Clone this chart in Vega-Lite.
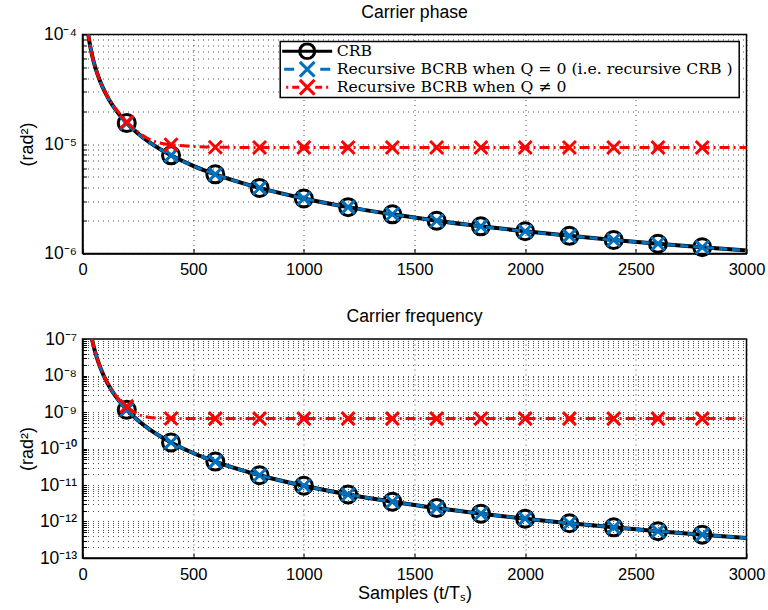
{
  "$schema": "https://vega.github.io/schema/vega-lite/v6.json",
  "background": "white",
  "padding": {"left": 17.5, "right": 2, "top": 2.5, "bottom": 5},
  "spacing": 27.5,
  "datasets": {
    "curves": [
      {"panel": "phase", "series": "crb", "n": 24, "value": 1.067e-4},
      {"panel": "phase", "series": "crb", "n": 30, "value": 8.89e-5},
      {"panel": "phase", "series": "crb", "n": 35, "value": 7.80e-5},
      {"panel": "phase", "series": "crb", "n": 40, "value": 6.96e-5},
      {"panel": "phase", "series": "crb", "n": 50, "value": 5.71e-5},
      {"panel": "phase", "series": "crb", "n": 60, "value": 4.85e-5},
      {"panel": "phase", "series": "crb", "n": 70, "value": 4.21e-5},
      {"panel": "phase", "series": "crb", "n": 80, "value": 3.72e-5},
      {"panel": "phase", "series": "crb", "n": 100, "value": 3.02e-5},
      {"panel": "phase", "series": "crb", "n": 120, "value": 2.54e-5},
      {"panel": "phase", "series": "crb", "n": 150, "value": 2.05e-5},
      {"panel": "phase", "series": "crb", "n": 200, "value": 1.553e-5},
      {"panel": "phase", "series": "crb", "n": 250, "value": 1.25e-5},
      {"panel": "phase", "series": "crb", "n": 300, "value": 1.046e-5},
      {"panel": "phase", "series": "crb", "n": 400, "value": 7.88e-6},
      {"panel": "phase", "series": "crb", "n": 500, "value": 6.32e-6},
      {"panel": "phase", "series": "crb", "n": 600, "value": 5.28e-6},
      {"panel": "phase", "series": "crb", "n": 800, "value": 3.97e-6},
      {"panel": "phase", "series": "crb", "n": 1000, "value": 3.18e-6},
      {"panel": "phase", "series": "crb", "n": 1200, "value": 2.65e-6},
      {"panel": "phase", "series": "crb", "n": 1400, "value": 2.28e-6},
      {"panel": "phase", "series": "crb", "n": 1600, "value": 1.99e-6},
      {"panel": "phase", "series": "crb", "n": 1800, "value": 1.77e-6},
      {"panel": "phase", "series": "crb", "n": 2000, "value": 1.595e-6},
      {"panel": "phase", "series": "crb", "n": 2200, "value": 1.45e-6},
      {"panel": "phase", "series": "crb", "n": 2400, "value": 1.33e-6},
      {"panel": "phase", "series": "crb", "n": 2600, "value": 1.228e-6},
      {"panel": "phase", "series": "crb", "n": 2800, "value": 1.14e-6},
      {"panel": "phase", "series": "crb", "n": 3000, "value": 1.065e-6},

      {"panel": "phase", "series": "rcrb", "n": 24, "value": 1.067e-4},
      {"panel": "phase", "series": "rcrb", "n": 30, "value": 8.89e-5},
      {"panel": "phase", "series": "rcrb", "n": 35, "value": 7.80e-5},
      {"panel": "phase", "series": "rcrb", "n": 40, "value": 6.96e-5},
      {"panel": "phase", "series": "rcrb", "n": 50, "value": 5.71e-5},
      {"panel": "phase", "series": "rcrb", "n": 60, "value": 4.85e-5},
      {"panel": "phase", "series": "rcrb", "n": 70, "value": 4.21e-5},
      {"panel": "phase", "series": "rcrb", "n": 80, "value": 3.72e-5},
      {"panel": "phase", "series": "rcrb", "n": 100, "value": 3.02e-5},
      {"panel": "phase", "series": "rcrb", "n": 120, "value": 2.54e-5},
      {"panel": "phase", "series": "rcrb", "n": 150, "value": 2.05e-5},
      {"panel": "phase", "series": "rcrb", "n": 200, "value": 1.553e-5},
      {"panel": "phase", "series": "rcrb", "n": 250, "value": 1.25e-5},
      {"panel": "phase", "series": "rcrb", "n": 300, "value": 1.046e-5},
      {"panel": "phase", "series": "rcrb", "n": 400, "value": 7.88e-6},
      {"panel": "phase", "series": "rcrb", "n": 500, "value": 6.32e-6},
      {"panel": "phase", "series": "rcrb", "n": 600, "value": 5.28e-6},
      {"panel": "phase", "series": "rcrb", "n": 800, "value": 3.97e-6},
      {"panel": "phase", "series": "rcrb", "n": 1000, "value": 3.18e-6},
      {"panel": "phase", "series": "rcrb", "n": 1200, "value": 2.65e-6},
      {"panel": "phase", "series": "rcrb", "n": 1400, "value": 2.28e-6},
      {"panel": "phase", "series": "rcrb", "n": 1600, "value": 1.99e-6},
      {"panel": "phase", "series": "rcrb", "n": 1800, "value": 1.77e-6},
      {"panel": "phase", "series": "rcrb", "n": 2000, "value": 1.595e-6},
      {"panel": "phase", "series": "rcrb", "n": 2200, "value": 1.45e-6},
      {"panel": "phase", "series": "rcrb", "n": 2400, "value": 1.33e-6},
      {"panel": "phase", "series": "rcrb", "n": 2600, "value": 1.228e-6},
      {"panel": "phase", "series": "rcrb", "n": 2800, "value": 1.14e-6},
      {"panel": "phase", "series": "rcrb", "n": 3000, "value": 1.065e-6},

      {"panel": "phase", "series": "bcrb", "n": 24, "value": 1.067e-4},
      {"panel": "phase", "series": "bcrb", "n": 30, "value": 8.9e-5},
      {"panel": "phase", "series": "bcrb", "n": 35, "value": 7.81e-5},
      {"panel": "phase", "series": "bcrb", "n": 40, "value": 6.97e-5},
      {"panel": "phase", "series": "bcrb", "n": 50, "value": 5.72e-5},
      {"panel": "phase", "series": "bcrb", "n": 60, "value": 4.86e-5},
      {"panel": "phase", "series": "bcrb", "n": 70, "value": 4.23e-5},
      {"panel": "phase", "series": "bcrb", "n": 80, "value": 3.74e-5},
      {"panel": "phase", "series": "bcrb", "n": 100, "value": 3.05e-5},
      {"panel": "phase", "series": "bcrb", "n": 120, "value": 2.58e-5},
      {"panel": "phase", "series": "bcrb", "n": 150, "value": 2.1e-5},
      {"panel": "phase", "series": "bcrb", "n": 200, "value": 1.59e-5},
      {"panel": "phase", "series": "bcrb", "n": 250, "value": 1.29e-5},
      {"panel": "phase", "series": "bcrb", "n": 300, "value": 1.11e-5},
      {"panel": "phase", "series": "bcrb", "n": 350, "value": 1.02e-5},
      {"panel": "phase", "series": "bcrb", "n": 400, "value": 9.85e-6},
      {"panel": "phase", "series": "bcrb", "n": 500, "value": 9.5e-6},
      {"panel": "phase", "series": "bcrb", "n": 600, "value": 9.35e-6},
      {"panel": "phase", "series": "bcrb", "n": 800, "value": 9.3e-6},
      {"panel": "phase", "series": "bcrb", "n": 1000, "value": 9.3e-6},
      {"panel": "phase", "series": "bcrb", "n": 1200, "value": 9.3e-6},
      {"panel": "phase", "series": "bcrb", "n": 1400, "value": 9.3e-6},
      {"panel": "phase", "series": "bcrb", "n": 1600, "value": 9.3e-6},
      {"panel": "phase", "series": "bcrb", "n": 1800, "value": 9.3e-6},
      {"panel": "phase", "series": "bcrb", "n": 2000, "value": 9.3e-6},
      {"panel": "phase", "series": "bcrb", "n": 2200, "value": 9.3e-6},
      {"panel": "phase", "series": "bcrb", "n": 2400, "value": 9.3e-6},
      {"panel": "phase", "series": "bcrb", "n": 2600, "value": 9.3e-6},
      {"panel": "phase", "series": "bcrb", "n": 2800, "value": 9.3e-6},
      {"panel": "phase", "series": "bcrb", "n": 3000, "value": 9.3e-6},

      {"panel": "freq", "series": "crb", "n": 42, "value": 1.053e-7},
      {"panel": "freq", "series": "crb", "n": 45, "value": 8.68e-8},
      {"panel": "freq", "series": "crb", "n": 50, "value": 6.45e-8},
      {"panel": "freq", "series": "crb", "n": 60, "value": 3.84e-8},
      {"panel": "freq", "series": "crb", "n": 70, "value": 2.47e-8},
      {"panel": "freq", "series": "crb", "n": 80, "value": 1.679e-8},
      {"panel": "freq", "series": "crb", "n": 100, "value": 8.79e-9},
      {"panel": "freq", "series": "crb", "n": 120, "value": 5.16e-9},
      {"panel": "freq", "series": "crb", "n": 150, "value": 2.68e-9},
      {"panel": "freq", "series": "crb", "n": 200, "value": 1.148e-9},
      {"panel": "freq", "series": "crb", "n": 250, "value": 5.93e-10},
      {"panel": "freq", "series": "crb", "n": 300, "value": 3.45e-10},
      {"panel": "freq", "series": "crb", "n": 400, "value": 1.467e-10},
      {"panel": "freq", "series": "crb", "n": 500, "value": 7.54e-11},
      {"panel": "freq", "series": "crb", "n": 600, "value": 4.378e-11},
      {"panel": "freq", "series": "crb", "n": 800, "value": 1.854e-11},
      {"panel": "freq", "series": "crb", "n": 1000, "value": 9.51e-12},
      {"panel": "freq", "series": "crb", "n": 1200, "value": 5.51e-12},
      {"panel": "freq", "series": "crb", "n": 1400, "value": 3.476e-12},
      {"panel": "freq", "series": "crb", "n": 1600, "value": 2.33e-12},
      {"panel": "freq", "series": "crb", "n": 1800, "value": 1.638e-12},
      {"panel": "freq", "series": "crb", "n": 2000, "value": 1.195e-12},
      {"panel": "freq", "series": "crb", "n": 2200, "value": 8.98e-13},
      {"panel": "freq", "series": "crb", "n": 2400, "value": 6.92e-13},
      {"panel": "freq", "series": "crb", "n": 2600, "value": 5.44e-13},
      {"panel": "freq", "series": "crb", "n": 2800, "value": 4.36e-13},
      {"panel": "freq", "series": "crb", "n": 3000, "value": 3.545e-13},

      {"panel": "freq", "series": "rcrb", "n": 42, "value": 1.053e-7},
      {"panel": "freq", "series": "rcrb", "n": 45, "value": 8.68e-8},
      {"panel": "freq", "series": "rcrb", "n": 50, "value": 6.45e-8},
      {"panel": "freq", "series": "rcrb", "n": 60, "value": 3.84e-8},
      {"panel": "freq", "series": "rcrb", "n": 70, "value": 2.47e-8},
      {"panel": "freq", "series": "rcrb", "n": 80, "value": 1.679e-8},
      {"panel": "freq", "series": "rcrb", "n": 100, "value": 8.79e-9},
      {"panel": "freq", "series": "rcrb", "n": 120, "value": 5.16e-9},
      {"panel": "freq", "series": "rcrb", "n": 150, "value": 2.68e-9},
      {"panel": "freq", "series": "rcrb", "n": 200, "value": 1.148e-9},
      {"panel": "freq", "series": "rcrb", "n": 250, "value": 5.93e-10},
      {"panel": "freq", "series": "rcrb", "n": 300, "value": 3.45e-10},
      {"panel": "freq", "series": "rcrb", "n": 400, "value": 1.467e-10},
      {"panel": "freq", "series": "rcrb", "n": 500, "value": 7.54e-11},
      {"panel": "freq", "series": "rcrb", "n": 600, "value": 4.378e-11},
      {"panel": "freq", "series": "rcrb", "n": 800, "value": 1.854e-11},
      {"panel": "freq", "series": "rcrb", "n": 1000, "value": 9.51e-12},
      {"panel": "freq", "series": "rcrb", "n": 1200, "value": 5.51e-12},
      {"panel": "freq", "series": "rcrb", "n": 1400, "value": 3.476e-12},
      {"panel": "freq", "series": "rcrb", "n": 1600, "value": 2.33e-12},
      {"panel": "freq", "series": "rcrb", "n": 1800, "value": 1.638e-12},
      {"panel": "freq", "series": "rcrb", "n": 2000, "value": 1.195e-12},
      {"panel": "freq", "series": "rcrb", "n": 2200, "value": 8.98e-13},
      {"panel": "freq", "series": "rcrb", "n": 2400, "value": 6.92e-13},
      {"panel": "freq", "series": "rcrb", "n": 2600, "value": 5.44e-13},
      {"panel": "freq", "series": "rcrb", "n": 2800, "value": 4.36e-13},
      {"panel": "freq", "series": "rcrb", "n": 3000, "value": 3.545e-13},

      {"panel": "freq", "series": "bcrb", "n": 42, "value": 1.055e-7},
      {"panel": "freq", "series": "bcrb", "n": 45, "value": 8.7e-8},
      {"panel": "freq", "series": "bcrb", "n": 50, "value": 6.47e-8},
      {"panel": "freq", "series": "bcrb", "n": 60, "value": 3.86e-8},
      {"panel": "freq", "series": "bcrb", "n": 70, "value": 2.49e-8},
      {"panel": "freq", "series": "bcrb", "n": 80, "value": 1.7e-8},
      {"panel": "freq", "series": "bcrb", "n": 100, "value": 8.95e-9},
      {"panel": "freq", "series": "bcrb", "n": 120, "value": 5.3e-9},
      {"panel": "freq", "series": "bcrb", "n": 150, "value": 2.82e-9},
      {"panel": "freq", "series": "bcrb", "n": 200, "value": 1.43e-9},
      {"panel": "freq", "series": "bcrb", "n": 250, "value": 8.7e-10},
      {"panel": "freq", "series": "bcrb", "n": 300, "value": 7.2e-10},
      {"panel": "freq", "series": "bcrb", "n": 350, "value": 6.8e-10},
      {"panel": "freq", "series": "bcrb", "n": 400, "value": 6.65e-10},
      {"panel": "freq", "series": "bcrb", "n": 500, "value": 6.6e-10},
      {"panel": "freq", "series": "bcrb", "n": 600, "value": 6.6e-10},
      {"panel": "freq", "series": "bcrb", "n": 800, "value": 6.6e-10},
      {"panel": "freq", "series": "bcrb", "n": 1000, "value": 6.6e-10},
      {"panel": "freq", "series": "bcrb", "n": 1200, "value": 6.6e-10},
      {"panel": "freq", "series": "bcrb", "n": 1400, "value": 6.6e-10},
      {"panel": "freq", "series": "bcrb", "n": 1600, "value": 6.6e-10},
      {"panel": "freq", "series": "bcrb", "n": 1800, "value": 6.6e-10},
      {"panel": "freq", "series": "bcrb", "n": 2000, "value": 6.6e-10},
      {"panel": "freq", "series": "bcrb", "n": 2200, "value": 6.6e-10},
      {"panel": "freq", "series": "bcrb", "n": 2400, "value": 6.6e-10},
      {"panel": "freq", "series": "bcrb", "n": 2600, "value": 6.6e-10},
      {"panel": "freq", "series": "bcrb", "n": 2800, "value": 6.6e-10},
      {"panel": "freq", "series": "bcrb", "n": 3000, "value": 6.6e-10}
    ]
  },
  "config": {
    "font": "Liberation Sans",
    "view": {"stroke": "black", "strokeWidth": 1.5},
    "axis": {
      "labelFont": "Liberation Sans", "labelFontSize": 16.5, "labelColor": "black",
      "titleFont": "Liberation Sans", "titleFontSize": 18, "titleFontWeight": "normal", "titleColor": "black",
      "domainColor": "black", "domainWidth": 1.5,
      "tickColor": "black", "tickWidth": 1, "tickSize": -5,
      "grid": true, "gridColor": "#222222", "gridDash": [1, 4], "gridWidth": 0.8,
      "labelFlush": false, "labelOverlap": false
    },
    "title": {"font": "Liberation Sans", "fontSize": 17.6, "fontWeight": "normal", "color": "black"},
    "legend": {"strokeWidth": 1.5}
  },
  "vconcat": [
    {
      "width": 664,
      "height": 219,
      "title": {"text": "Carrier phase", "offset": 4},
      "encoding": {
        "x": {"field": "n", "type": "quantitative", "scale": {"domain": [0, 3000]},
              "axis": {"title": null, "values": [0, 500, 1000, 1500, 2000, 2500, 3000], "format": "d", "labelPadding": 13}},
        "y": {"field": "value", "type": "quantitative",
              "scale": {"type": "log", "domain": [1e-6, 1e-4]},
              "axis": {"title": "(rad²)", "titleX": -55, "titleBaseline": "middle", "labelPadding": 10, "tickSize": -4, "labelFontSize": 17.5,
                       "values": [1e-6, 2e-6, 3e-6, 4e-6, 5e-6, 6e-6, 7e-6, 8e-6, 9e-6, 1e-5, 2e-5, 3e-5, 4e-5, 5e-5, 6e-5, 7e-5, 8e-5, 9e-5, 1e-4],
                       "labelExpr": "datum.value == 1e-4 ? '10⁻⁴' : datum.value == 1e-5 ? '10⁻⁵' : datum.value == 1e-6 ? '10⁻⁶' : ''"}}
      },
      "layer": [
        {"data": {"name": "curves"}, "transform": [{"filter": "datum.panel == 'phase' && datum.series == 'crb'"}],
         "mark": {"type": "line", "color": "black", "strokeWidth": 4, "clip": true, "interpolate": "monotone"}},
        {"data": {"name": "curves"}, "transform": [{"filter": "datum.panel == 'phase' && datum.series == 'crb' && datum.n % 200 == 0 && datum.n <= 2800"}],
         "mark": {"type": "point", "shape": "circle", "size": 289, "filled": false, "color": "black", "strokeWidth": 3, "opacity": 1}},
        {"data": {"name": "curves"}, "transform": [{"filter": "datum.panel == 'phase' && datum.series == 'rcrb'"}],
         "mark": {"type": "line", "color": "#0072BD", "strokeWidth": 3, "strokeDash": [8, 5], "clip": true, "interpolate": "monotone"}},
        {"data": {"name": "curves"}, "transform": [{"filter": "datum.panel == 'phase' && datum.series == 'rcrb' && datum.n % 200 == 0 && datum.n <= 2800"}],
         "mark": {"type": "point", "shape": "M-1,-1L1,1M-1,1L1,-1", "size": 169, "filled": false, "color": "#0072BD", "strokeWidth": 3, "opacity": 1}},
        {"data": {"name": "curves"}, "transform": [{"filter": "datum.panel == 'phase' && datum.series == 'bcrb'"}],
         "mark": {"type": "line", "color": "#FF0000", "strokeWidth": 3, "strokeDash": [10, 4, 2, 4], "clip": true, "interpolate": "monotone"}},
        {"data": {"name": "curves"}, "transform": [{"filter": "datum.panel == 'phase' && datum.series == 'bcrb' && datum.n % 200 == 0 && datum.n <= 2800"}],
         "mark": {"type": "point", "shape": "M-1,-1L1,1M-1,1L1,-1", "size": 169, "filled": false, "color": "#FF0000", "strokeWidth": 3, "opacity": 1}},
        {"data": {"name": "curves"}, "transform": [{"filter": "datum.panel == 'phase' && datum.n % 200 == 0 && datum.n <= 2800"}],
         "mark": {"type": "point", "opacity": 0, "filled": false},
         "encoding": {
           "color": {"field": "series", "type": "nominal",
                     "scale": {"domain": ["crb", "rcrb", "bcrb"], "range": ["black", "#0072BD", "#FF0000"]},
                     "legend": {"title": null, "orient": "none", "legendX": 197.7, "legendY": 7.1,
                                "labelExpr": "datum.label == 'crb' ? 'CRB' : datum.label == 'rcrb' ? 'Recursive BCRB when  Q = 0 (i.e. recursive CRB )' : 'Recursive BCRB when  Q ≠ 0'",
                                "symbolSize": 196, "symbolStrokeWidth": 3, "symbolOffset": 17.5, "labelOffset": 21,
                                "labelFont": "DejaVu Serif", "labelFontSize": 15.7, "labelLimit": 600, "labelColor": "black",
                                "clipHeight": 17.25, "rowPadding": 0, "padding": 1, "strokeColor": "black", "fillColor": "white", "symbolOpacity": 1}},
           "shape": {"field": "series", "type": "nominal",
                     "scale": {"domain": ["crb", "rcrb", "bcrb"],
                               "range": ["M-3.57,0L3.57,0M1.07,0L0.989,0.41L0.757,0.757L0.41,0.989L0,1.07L-0.41,0.989L-0.757,0.757L-0.989,0.41L-1.07,0L-0.989,-0.41L-0.757,-0.757L-0.41,-0.989L0,-1.07L0.41,-0.989L0.757,-0.757L0.989,-0.41Z",
                                         "M-3.29,0L-1.86,0M1.86,0L3.29,0M-1.05,-1.05L1.05,1.05M-1.05,1.05L1.05,-1.05",
                                         "M-3,0L-2.71,0M-2.14,0L-1.14,0M1.14,0L2.14,0M2.71,0L3,0M-1.05,-1.05L1.05,1.05M-1.05,1.05L1.05,-1.05"]},
                     "legend": {"title": null, "orient": "none", "legendX": 197.7, "legendY": 7.1,
                                "labelExpr": "datum.label == 'crb' ? 'CRB' : datum.label == 'rcrb' ? 'Recursive BCRB when  Q = 0 (i.e. recursive CRB )' : 'Recursive BCRB when  Q ≠ 0'",
                                "symbolSize": 196, "symbolStrokeWidth": 3, "symbolOffset": 17.5, "labelOffset": 21,
                                "labelFont": "DejaVu Serif", "labelFontSize": 15.7, "labelLimit": 600, "labelColor": "black",
                                "clipHeight": 17.25, "rowPadding": 0, "padding": 1, "strokeColor": "black", "fillColor": "white", "symbolOpacity": 1}}
         }}
      ]
    },
    {
      "width": 664,
      "height": 219,
      "title": {"text": "Carrier frequency", "offset": 4},
      "encoding": {
        "x": {"field": "n", "type": "quantitative", "scale": {"domain": [0, 3000]},
              "axis": {"title": "Samples (t/Tₛ)", "titleY": 40, "titleBaseline": "alphabetic", "values": [0, 500, 1000, 1500, 2000, 2500, 3000], "format": "d", "labelPadding": 13}},
        "y": {"field": "value", "type": "quantitative",
              "scale": {"type": "log", "domain": [1e-13, 1e-7]},
              "axis": {"title": "(rad²)", "titleX": -55, "titleBaseline": "middle", "labelPadding": 10, "tickSize": -4, "labelFontSize": 17.5,
                       "values": [1e-13, 2e-13, 3e-13, 4e-13, 5e-13, 6e-13, 7e-13, 8e-13, 9e-13,
                                  1e-12, 2e-12, 3e-12, 4e-12, 5e-12, 6e-12, 7e-12, 8e-12, 9e-12,
                                  1e-11, 2e-11, 3e-11, 4e-11, 5e-11, 6e-11, 7e-11, 8e-11, 9e-11,
                                  1e-10, 2e-10, 3e-10, 4e-10, 5e-10, 6e-10, 7e-10, 8e-10, 9e-10,
                                  1e-9, 2e-9, 3e-9, 4e-9, 5e-9, 6e-9, 7e-9, 8e-9, 9e-9,
                                  1e-8, 2e-8, 3e-8, 4e-8, 5e-8, 6e-8, 7e-8, 8e-8, 9e-8, 1e-7],
                       "labelExpr": "datum.value == 1e-7 ? '10⁻⁷' : datum.value == 1e-8 ? '10⁻⁸' : datum.value == 1e-9 ? '10⁻⁹' : datum.value == 1e-10 ? '10⁻¹⁰' : datum.value == 1e-11 ? '10⁻¹¹' : datum.value == 1e-12 ? '10⁻¹²' : datum.value == 1e-13 ? '10⁻¹³' : ''"}}
      },
      "layer": [
        {"data": {"name": "curves"}, "transform": [{"filter": "datum.panel == 'freq' && datum.series == 'crb'"}],
         "mark": {"type": "line", "color": "black", "strokeWidth": 4, "clip": true, "interpolate": "monotone"}},
        {"data": {"name": "curves"}, "transform": [{"filter": "datum.panel == 'freq' && datum.series == 'crb' && datum.n % 200 == 0 && datum.n <= 2800"}],
         "mark": {"type": "point", "shape": "circle", "size": 289, "filled": false, "color": "black", "strokeWidth": 3, "opacity": 1}},
        {"data": {"name": "curves"}, "transform": [{"filter": "datum.panel == 'freq' && datum.series == 'rcrb'"}],
         "mark": {"type": "line", "color": "#0072BD", "strokeWidth": 3, "strokeDash": [8, 5], "clip": true, "interpolate": "monotone"}},
        {"data": {"name": "curves"}, "transform": [{"filter": "datum.panel == 'freq' && datum.series == 'rcrb' && datum.n % 200 == 0 && datum.n <= 2800"}],
         "mark": {"type": "point", "shape": "M-1,-1L1,1M-1,1L1,-1", "size": 169, "filled": false, "color": "#0072BD", "strokeWidth": 3, "opacity": 1}},
        {"data": {"name": "curves"}, "transform": [{"filter": "datum.panel == 'freq' && datum.series == 'bcrb'"}],
         "mark": {"type": "line", "color": "#FF0000", "strokeWidth": 3, "strokeDash": [10, 4, 2, 4], "clip": true, "interpolate": "monotone"}},
        {"data": {"name": "curves"}, "transform": [{"filter": "datum.panel == 'freq' && datum.series == 'bcrb' && datum.n % 200 == 0 && datum.n <= 2800"}],
         "mark": {"type": "point", "shape": "M-1,-1L1,1M-1,1L1,-1", "size": 169, "filled": false, "color": "#FF0000", "strokeWidth": 3, "opacity": 1}}
      ]
    }
  ]
}
